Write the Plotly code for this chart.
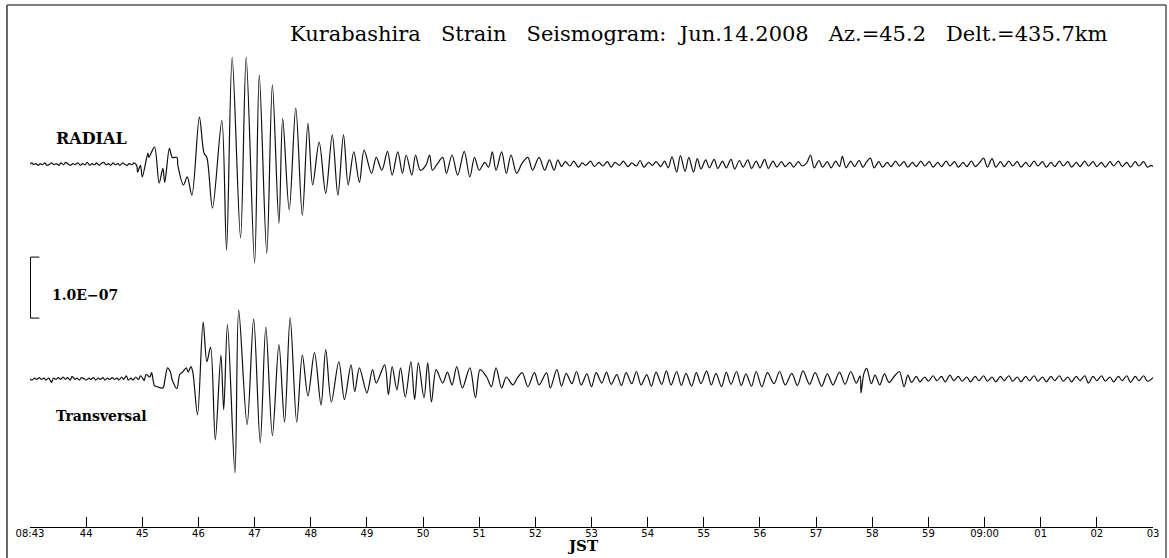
import plotly.graph_objects as go

# ---------------- data ----------------
# time in seconds after 08:43:00 JST, strain in units of 1e-9 (nano-strain)
tick_seconds = [0, 60, 120, 180, 240, 300, 360, 420, 480, 540, 600,
                660, 720, 780, 840, 900, 960, 1020, 1080, 1140, 1200]
tick_labels = ["08:43", "44", "45", "46", "47", "48", "49", "50", "51", "52", "53",
               "54", "55", "56", "57", "58", "59", "09:00", "01", "02", "03"]

radial_points = [
    (0, 0), (2, 2), (4, -1), (6, 1), (9, -2), (11, 1), (13, -1), (16, 2), (18, -2), (21, 0),
    (23, 2), (26, -1), (28, 1), (31, -2), (33, 2), (36, -1), (38, 3), (41, 0), (43, -2), (46, 1),
    (48, -1), (51, 2), (54, -2), (56, 1), (59, -1), (61, 3), (64, -2), (66, 1), (69, -1), (71, 2),
    (74, -2), (76, 1), (79, 3), (81, -1), (84, 1), (86, -2), (89, 2), (91, -1), (94, 1), (96, -2),
    (99, 2), (101, 0), (104, -2), (106, 1), (109, -1), (111, 2),
    (114, -2), (115, -13), (118, -2), (120, -21), (126, 18), (127, 11), (133, 28), (138, -31),
    (142, -7), (144, -30), (149, 26), (152, 11), (157, 11), (158, -2), (164, -34), (168, -21),
    (173, -51), (181, 77), (186, 18), (189, 11), (195, -72), (205, 72), (210, -141), (216, 175),
    (225, -121), (231, 175), (240, -162), (245, 146), (253, -146), (259, 130), (266, -97),
    (270, 75), (277, -75), (284, 92), (291, -84), (297, 67), (302, -34), (309, 36), (316, -48),
    (323, 48), (329, -51), (335, 48), (340, -34), (346, 20), (352, -30), (357, 23), (365, -15),
    (370, 11), (376, -10), (382, 21), (387, -18), (393, 20), (398, -15), (402, 15), (408, -18),
    (412, 15), (417, -10), (423, -2), (427, 15), (430, -10), (435, 0), (441, 11), (445, -15),
    (451, 15), (457, -18), (464, 21), (470, -21), (475, 11), (480, -10), (486, 3), (490, -5),
    (494, 20), (498, -10), (504, 20), (509, -15), (514, 15), (520, -15), (526, 2), (532, 11),
    (537, -10), (544, 11), (550, -10), (555, 7), (560, -10), (564, 7),
    (568, -4), (572, 4), (577, -3), (581, 5), (586, -5), (590, 2), (594, -2), (599, 5), (603, -4),
    (608, 3), (612, -3), (617, 4), (621, -5), (625, 3), (630, -2), (634, 5), (639, -4), (643, 2),
    (648, -3), (652, 6), (656, -5), (661, 3), (665, -2), (669, 4), (674, -4), (678, 5), (682, -6),
    (686, 12), (691, -13), (695, 14), (700, -12), (704, 11), (709, -13), (713, 9),
    (717, -8), (722, 7), (726, -6), (731, 8), (735, -7), (740, 5), (744, -6), (749, 8), (753, -8),
    (758, 6), (762, -5), (767, 7), (771, -7), (776, 5), (780, -6), (785, 8), (789, -7), (794, 5),
    (798, -5), (803, 4), (807, -4), (812, 3), (816, -5), (821, 4), (825, -3), (830, 2),
    (834, 15), (838, -6), (843, 6), (847, -5), (852, 4), (856, -6), (861, 5), (865, -4), (868, 13),
    (872, -6), (877, 5), (881, -4), (886, 6), (890, -5), (894, 4), (898, 10), (902, -6), (907, 4),
    (911, -5), (916, 3), (920, -4), (925, 5), (929, -3), (934, 4), (938, -5), (943, 3), (947, -4),
    (952, 5), (956, -3), (961, 4), (965, -5), (970, 3), (974, -4), (979, 5), (983, -3), (988, 4),
    (992, -5), (997, 3), (1001, -4), (1006, 5), (1010, -4), (1015, 3), (1019, 10), (1023, -5),
    (1028, 9), (1032, -5), (1037, 4), (1041, -4), (1046, 5), (1050, -3), (1055, 4), (1059, -5),
    (1064, 3), (1068, -4), (1073, 5), (1077, -3), (1082, 4), (1086, -5), (1091, 3), (1095, -4),
    (1100, 5), (1104, -3), (1109, 4), (1113, -5), (1118, 3), (1122, -4), (1127, 5), (1131, -3),
    (1136, 4), (1140, -4), (1145, 3), (1149, -5), (1154, 4), (1158, -3), (1163, 5), (1167, -4),
    (1172, 3), (1176, -5), (1181, 4), (1185, -3), (1190, 4), (1194, -5), (1198, -2), (1200, -4),
]

transversal_points = [
    (0, 0), (2, -2), (5, 1), (7, -1), (10, 2), (12, -1), (15, 1), (17, -2), (20, 1), (23, -6),
    (25, 1), (28, -1), (30, 2), (33, -1), (35, 3), (38, -1), (40, 2), (43, -2), (45, 4), (48, -1),
    (50, 1), (53, -2), (55, 2), (58, 0), (60, -2), (63, 1), (65, -1), (68, 2), (70, -2), (73, 1),
    (75, -1), (78, 2), (80, -2), (83, 1), (85, -1), (88, 2), (90, -1), (93, 1), (95, -2), (98, 3),
    (100, -1), (103, 5), (105, -2), (108, 1), (110, -2), (113, 3), (116, -1), (118, 5), (120, 2),
    (122, -3), (124, 7), (128, 3), (130, 10), (133, -11), (136, -13), (142, -15), (144, -3),
    (147, 18), (150, 11), (152, -2), (157, -16), (160, 7), (163, 11), (167, 18), (169, 11),
    (172, 20), (174, 11), (179, -59), (185, 93), (189, 28), (193, 52), (198, -100), (204, 39),
    (207, -51), (211, 89), (219, -154), (223, 113), (232, -75), (239, 98), (246, -105), (252, 85),
    (259, -93), (266, 56), (272, -71), (278, 100), (285, -71), (291, 39), (297, -28), (304, 43),
    (311, -43), (316, 48), (322, -38), (330, 28), (336, -34), (343, 23), (347, -21), (352, 18),
    (360, -23), (366, 15), (370, -7), (379, 23), (383, -26), (387, 20), (392, -18), (396, 18),
    (401, -30), (407, 28), (411, -34), (415, 26), (421, -31), (425, 26), (429, -38), (434, 15),
    (441, -7), (446, 11), (451, -10), (456, 20), (462, -15), (470, 18), (476, -31), (481, 15),
    (488, 3), (493, -13), (498, 18), (504, -15), (509, 3), (516, -10), (521, 2), (526, 10),
    (532, -13), (539, 10), (544, -10), (552, 10), (556, -15), (563, 15),
    (568, -12), (573, 9), (579, -8), (584, 12), (589, -10), (595, 8), (600, -13), (605, 10),
    (611, -7), (616, 11), (621, -9), (627, 7), (632, -11), (637, 10), (643, -8), (648, 12),
    (653, -10), (659, 7), (664, -12), (669, 11), (675, -9), (680, 13),
    (685, -10), (691, 12), (696, -11), (701, 9), (707, -12), (712, 10), (717, -8), (723, 13),
    (728, -10), (733, 9), (739, -13), (744, 11), (749, -9), (755, 12), (760, -11), (765, 8),
    (771, -12), (776, 12),
    (782, -13), (788, 10), (795, -8), (801, 12), (807, -10), (814, 9), (820, -11), (826, 13),
    (833, -9), (839, 10), (846, -12), (852, 8), (858, -10), (865, 11), (871, -9), (877, 12),
    (883, -7), (887, 5), (888, -23), (891, 8), (894, 17), (899, -8), (903, 6), (908, -10),
    (913, 8), (918, -6), (924, 5), (929, 12), (934, -13), (938, 6),
    (942, -6), (947, 4), (951, -5), (956, 3), (960, -4), (965, 5), (969, -3), (974, 4), (978, -5),
    (983, 6), (987, -3), (992, 4), (996, -4), (1001, 3), (1005, -5), (1010, 4), (1014, -3),
    (1019, 5), (1023, -4), (1028, 3), (1032, -5), (1037, 4), (1041, -3), (1046, 5), (1050, -4),
    (1055, 3), (1059, -5), (1064, 4), (1068, -3), (1073, 5), (1077, -4), (1082, 3), (1086, -5),
    (1091, 4), (1095, -3), (1100, 5), (1104, -4), (1109, 3), (1113, -5), (1118, 4), (1122, -3),
    (1127, 5), (1131, -7), (1136, 4), (1140, -3), (1145, 5), (1149, -4), (1154, 3), (1158, -5),
    (1163, 4), (1167, -3), (1172, 5), (1176, -6), (1181, 4), (1185, -3), (1190, 5), (1194, -4),
    (1200, 2),
]

scale_bar_value = 100  # 1.0E-07 strain in nano-strain
title_text = ("Kurabashira\u00a0\u00a0\u00a0Strain\u00a0\u00a0\u00a0Seismogram:\u00a0\u00a0"
              "Jun.14.2008\u00a0\u00a0\u00a0Az.=45.2\u00a0\u00a0\u00a0Delt.=435.7km")

# ---------------- layout constants ----------------
RADIAL_OFFSET = 595
TRANS_OFFSET = 243
SCALE_BASE = 342.6
Y_MAX = 856

fig = go.Figure()
for pts, off in ((radial_points, RADIAL_OFFSET), (transversal_points, TRANS_OFFSET)):
    fig.add_trace(go.Scatter(
        x=[p[0] for p in pts], y=[p[1] + off for p in pts],
        mode="lines", line=dict(color="#111111", width=1.2, shape="spline", smoothing=0.9),
        hoverinfo="skip", showlegend=False))

# scale bar bracket
fig.add_shape(type="path",
              path=f"M 10 {SCALE_BASE} L 0.5 {SCALE_BASE} L 0.5 {SCALE_BASE + scale_bar_value} L 10 {SCALE_BASE + scale_bar_value}",
              xref="x", yref="y", line=dict(color="black", width=1))

# frame
fig.add_shape(type="line", xref="paper", yref="paper", x0=-0.0205, x1=-0.0205, y0=1.0, y1=-0.2,
              line=dict(color="#333333", width=1.5))
fig.add_shape(type="line", xref="paper", yref="paper", x0=-0.0205, x1=1.0116, y0=1.0, y1=1.0,
              line=dict(color="#555555", width=1.5))
fig.add_shape(type="line", xref="paper", yref="paper", x0=1.0116, x1=1.0116, y0=1.0, y1=-0.2,
              line=dict(color="#555555", width=1.5))

serif = "DejaVu Serif"
fig.add_annotation(text=title_text, xref="paper", yref="paper", x=0.2297, y=0.9444,
                   xanchor="left", yanchor="middle", showarrow=False,
                   font=dict(family=serif, size=21, color="black"))
fig.add_annotation(text="<b>RADIAL</b>", xref="paper", yref="paper", x=0.0214, y=0.7452,
                   xanchor="left", yanchor="middle", showarrow=False,
                   font=dict(family=serif, size=16, color="black"))
fig.add_annotation(text="<b>Transversal</b>", xref="paper", yref="paper", x=0.0214, y=0.2126,
                   xanchor="left", yanchor="middle", showarrow=False,
                   font=dict(family=serif, size=14, color="black"))
fig.add_annotation(text="<b>1.0E\u221207</b>", xref="paper", yref="paper", x=0.0178, y=0.4444,
                   xanchor="left", yanchor="middle", showarrow=False,
                   font=dict(family=serif, size=14, color="black"))
fig.add_annotation(text="<b>JST</b>", xref="paper", yref="paper", x=0.4924, y=-0.0364,
                   xanchor="center", yanchor="middle", showarrow=False,
                   font=dict(family=serif, size=15, color="black"))

fig.update_layout(
    width=1169, height=558,
    margin=dict(l=30, r=16, t=5, b=31, pad=0),
    paper_bgcolor="white", plot_bgcolor="white",
    xaxis=dict(range=[0, 1200], tickvals=tick_seconds, ticktext=tick_labels,
               showline=True, linecolor="black", linewidth=1,
               ticks="inside", ticklen=10, tickcolor="black", tickwidth=1,
               tickfont=dict(family="DejaVu Sans", size=10, color="black"),
               ticklabelstandoff=-3,
               showgrid=False, zeroline=False, fixedrange=True),
    yaxis=dict(range=[0, Y_MAX], visible=False, showgrid=False, zeroline=False, fixedrange=True),
)

fig.write_html("out.html")
